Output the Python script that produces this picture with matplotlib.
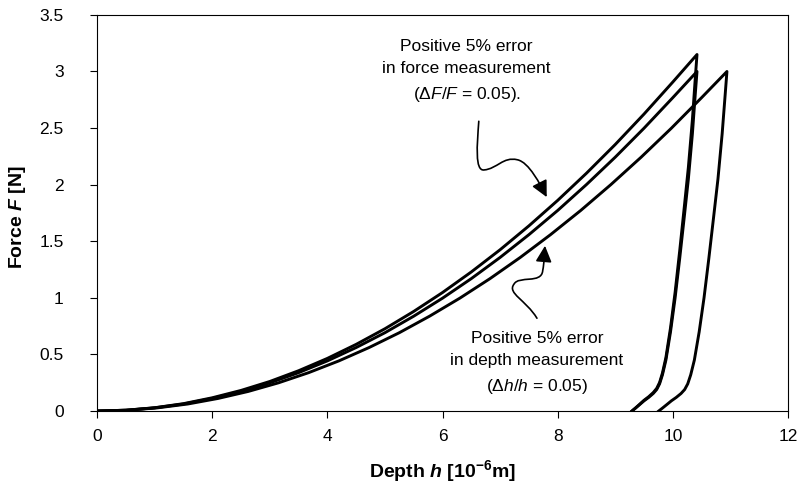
import matplotlib
matplotlib.use("Agg")
from matplotlib import pyplot as plt
from matplotlib.path import Path
from matplotlib.patches import FancyArrowPatch

plt.rcParams["font.family"] = ["Liberation Sans", "DejaVu Sans"]
plt.rcParams["mathtext.fontset"] = "custom"
plt.rcParams["mathtext.rm"] = "Liberation Sans"
plt.rcParams["mathtext.it"] = "Liberation Sans:italic"
plt.rcParams["mathtext.bf"] = "Liberation Sans:bold"
plt.rcParams["mathtext.bfit"] = "Liberation Sans:bold:italic"

# reference curve (loading + unloading), depth in 1e-6 m, force in N
base_h = [0, 0.5, 1, 1.5, 2, 2.5, 3, 3.5, 4, 4.5, 5, 5.5, 6, 6.5, 7, 7.5, 8, 8.5, 9, 9.5, 10, 10.42,
          10.39, 10.34, 10.27, 10.20, 10.12, 10.04, 9.96, 9.88, 9.82, 9.77, 9.72, 9.66, 9.58, 9.50,
          9.42, 9.35, 9.29]
base_F = [0, 0.007, 0.028, 0.062, 0.111, 0.173, 0.249, 0.339, 0.443, 0.561, 0.692, 0.838, 0.997,
          1.170, 1.357, 1.558, 1.772, 2.001, 2.243, 2.499, 2.769, 3.0,
          2.8, 2.45, 2.05, 1.72, 1.35, 1.0, 0.70, 0.45, 0.32, 0.24, 0.19, 0.155, 0.12, 0.09,
          0.055, 0.025, 0.0]

# positive 5% error in force measurement
force_h = [0, 0.5, 1, 1.5, 2, 2.5, 3, 3.5, 4, 4.5, 5, 5.5, 6, 6.5, 7, 7.5, 8, 8.5, 9, 9.5, 10, 10.42,
           10.39, 10.34, 10.27, 10.20, 10.12, 10.04, 9.96, 9.88, 9.82, 9.77, 9.72, 9.66, 9.58, 9.50,
           9.42, 9.35, 9.29]
force_F = [0, 0.007, 0.029, 0.065, 0.117, 0.182, 0.261, 0.356, 0.465, 0.589, 0.727, 0.880, 1.047,
           1.229, 1.425, 1.636, 1.861, 2.101, 2.355, 2.624, 2.907, 3.15,
           2.94, 2.573, 2.153, 1.806, 1.418, 1.05, 0.735, 0.473, 0.336, 0.252, 0.2, 0.163, 0.126, 0.095,
           0.058, 0.026, 0.0]

# positive 5% error in depth measurement
depth_h = [0, 0.525, 1.05, 1.575, 2.1, 2.625, 3.15, 3.675, 4.2, 4.725, 5.25, 5.775, 6.3, 6.825,
           7.35, 7.875, 8.4, 8.925, 9.45, 9.975, 10.5, 10.94,
           10.91, 10.857, 10.784, 10.71, 10.626, 10.542, 10.458, 10.374, 10.311, 10.259, 10.206,
           10.143, 10.059, 9.975, 9.891, 9.818, 9.755]
depth_F = [0, 0.007, 0.028, 0.062, 0.111, 0.173, 0.249, 0.339, 0.443, 0.561, 0.692, 0.838, 0.997,
           1.170, 1.357, 1.558, 1.772, 2.001, 2.243, 2.499, 2.769, 3.0,
           2.8, 2.45, 2.05, 1.72, 1.35, 1.0, 0.70, 0.45, 0.32, 0.24, 0.19, 0.155, 0.12, 0.09,
           0.055, 0.025, 0.0]

x_ticks = [0, 2, 4, 6, 8, 10, 12]
y_ticks = [0, 0.5, 1, 1.5, 2, 2.5, 3, 3.5]
y_tick_labels = ["0", "0.5", "1", "1.5", "2", "2.5", "3", "3.5"]

fig = plt.figure(figsize=(8.09, 4.97), dpi=100)
ax = fig.add_axes([0.12, 0.173, 0.854, 0.797])

for h, F in [(base_h, base_F), (force_h, force_F), (depth_h, depth_F)]:
    ax.plot(h, F, color="black", lw=2.1, solid_joinstyle="round")

ax.set_xlim(0, 12)
ax.set_ylim(0, 3.5)
ax.set_xticks(x_ticks)
ax.set_yticks(y_ticks)
ax.set_yticklabels(y_tick_labels)
ax.tick_params(direction="out", length=5, width=0.8, labelsize=12.5)
ax.tick_params(axis="x", pad=8)
ax.tick_params(axis="y", pad=19)
for s in ax.spines.values():
    s.set_linewidth(0.8)

ax.set_xlabel(r"Depth $\mathbfit{h}$ [10$^{\mathbf{-6}}$m]", fontsize=14, fontweight="bold")
ax.set_ylabel(r"Force $\mathbfit{F}$ [N]", fontsize=14, fontweight="bold")
ax.xaxis.set_label_coords(0.5, -0.118)
ax.yaxis.set_label_coords(-0.1, 0.49)

ax.text(6.42, 3.0, "Positive 5% error\nin force measurement\n" + r"($\mathit{ΔF/F}$ = 0.05).",
        ha="center", va="center", fontsize=12.5, linespacing=1.65)
ax.text(7.64, 0.42, "Positive 5% error\nin depth measurement\n" + r"($\mathit{Δh/h}$ = 0.05)",
        ha="center", va="center", fontsize=12.5, linespacing=1.65)

# curly arrows
force_arrow = Path(
    [(6.63, 2.56), (6.60, 2.35), (6.56, 2.12), (6.72, 2.13),
     (6.95, 2.14), (7.05, 2.25), (7.30, 2.22),
     (7.50, 2.20), (7.70, 2.00), (7.81, 1.89)],
    [Path.MOVETO, Path.CURVE4, Path.CURVE4, Path.CURVE4,
     Path.CURVE4, Path.CURVE4, Path.CURVE4,
     Path.CURVE4, Path.CURVE4, Path.CURVE4])
depth_arrow = Path(
    [(7.64, 0.82), (7.45, 0.98), (7.12, 1.04), (7.24, 1.12),
     (7.32, 1.20), (7.72, 1.12), (7.74, 1.24),
     (7.77, 1.32), (7.77, 1.40), (7.78, 1.46)],
    [Path.MOVETO, Path.CURVE4, Path.CURVE4, Path.CURVE4,
     Path.CURVE4, Path.CURVE4, Path.CURVE4,
     Path.CURVE4, Path.CURVE4, Path.CURVE4])
for p in [force_arrow, depth_arrow]:
    ax.add_patch(FancyArrowPatch(path=p, arrowstyle="-|>,head_length=0.7,head_width=0.35",
                                 mutation_scale=14, color="black", lw=1.2))

plt.savefig("out.png", dpi=100)
plt.close()
